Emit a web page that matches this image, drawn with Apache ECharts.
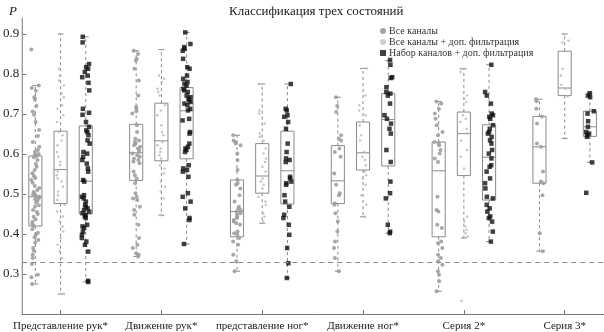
<!DOCTYPE html>
<html><head><meta charset="utf-8">
<script src="https://cdn.jsdelivr.net/npm/echarts@6/dist/echarts.min.js"></script>
<style>html,body{margin:0;padding:0;background:#fff}#c{width:604px;height:332px}</style>
</head><body><div id="c"></div>
<script>
const categories = ['Представление рук*','Движение рук*','представление ног*','Движение ног*','Серия 2*','Серия 3*'];
const seriesNames = ['Все каналы','Все каналы + доп. фильтрация','Набор каналов + доп. фильтрация'];
const yTicks = [0.3,0.4,0.5,0.6,0.7,0.8,0.9];
const chanceLevel = 0.333;

// box stats: [lowWhisker, q1, median, q3, highWhisker]
const allStats = [
 [0.275,0.42,0.493,0.595,0.771],
 [0.344,0.534,0.603,0.674,0.858],
 [0.307,0.393,0.456,0.535,0.647],
 [0.307,0.476,0.533,0.621,0.742],
 [0.257,0.393,0.558,0.63,0.731],
 [0.357,0.527,0.618,0.694,0.737]
];
const filtStats = [
 [0.25,0.476,0.561,0.657,0.9],
 [0.447,0.583,0.633,0.727,0.861],
 [0.427,0.502,0.545,0.626,0.775],
 [0.443,0.56,0.603,0.68,0.814],
 [0.39,0.546,0.651,0.705,0.813],
 [0.639,0.746,0.765,0.857,0.9]
];
const setStats = [
 [0.28,0.45,0.532,0.67,0.893],
 [0.375,0.588,0.708,0.766,0.904],
 [0.29,0.475,0.558,0.657,0.775],
 [0.402,0.57,0.686,0.751,0.834],
 [0.381,0.485,0.592,0.673,0.823],
 [0.579,0.644,0.668,0.707,0.752]
];

// individual values
const all1 = [0.861,0.771,0.765,0.758,0.742,0.737,0.72,0.706,0.698,0.68,0.66,0.645,0.63,0.618,0.61,0.605,0.6,0.598,0.595,0.592,0.585,0.575,0.568,0.56,0.552,0.545,0.54,0.535,0.528,0.52,0.515,0.51,0.505,0.5,0.498,0.495,0.493,0.49,0.487,0.483,0.478,0.472,0.468,0.46,0.455,0.45,0.443,0.437,0.43,0.425,0.42,0.412,0.403,0.398,0.392,0.385,0.378,0.365,0.358,0.348,0.34,0.325,0.298,0.292,0.275];
const all2 = [0.858,0.85,0.838,0.834,0.813,0.784,0.746,0.718,0.713,0.707,0.701,0.672,0.655,0.638,0.634,0.63,0.626,0.622,0.618,0.614,0.61,0.605,0.601,0.597,0.593,0.589,0.585,0.581,0.577,0.556,0.547,0.539,0.527,0.502,0.493,0.489,0.485,0.468,0.46,0.448,0.423,0.39,0.373,0.365,0.352,0.348,0.344];
const all3 = [0.647,0.634,0.63,0.626,0.622,0.601,0.585,0.56,0.535,0.527,0.523,0.514,0.497,0.481,0.468,0.464,0.46,0.456,0.452,0.448,0.444,0.44,0.435,0.431,0.427,0.423,0.406,0.402,0.398,0.39,0.381,0.373,0.348,0.332,0.307];
const all4 = [0.742,0.72,0.705,0.647,0.638,0.634,0.614,0.605,0.593,0.551,0.523,0.502,0.497,0.477,0.473,0.452,0.431,0.406,0.381,0.365,0.34,0.307];
const all5 = [0.731,0.726,0.713,0.701,0.688,0.672,0.655,0.647,0.63,0.626,0.622,0.61,0.601,0.589,0.58,0.493,0.46,0.456,0.423,0.415,0.381,0.377,0.365,0.348,0.34,0.332,0.323,0.307,0.298,0.282,0.257];
const all6 = [0.737,0.732,0.713,0.694,0.676,0.626,0.618,0.556,0.531,0.527,0.497,0.402,0.357];

const filt1 = [0.813,0.796,0.784,0.771,0.751,0.742,0.722,0.713,0.697,0.68,0.655,0.647,0.634,0.622,0.605,0.593,0.58,0.572,0.556,0.547,0.539,0.531,0.518,0.506,0.497,0.485,0.473,0.456,0.444,0.431,0.419,0.406,0.39,0.373,0.356,0.34,0.25];
const filt2 = [0.796,0.788,0.78,0.763,0.755,0.746,0.722,0.709,0.697,0.672,0.655,0.647,0.63,0.622,0.614,0.605,0.597,0.589,0.572,0.564,0.551,0.531,0.518,0.506,0.489,0.447];
const filt3 = [0.775,0.709,0.701,0.676,0.651,0.643,0.634,0.614,0.601,0.589,0.58,0.568,0.556,0.539,0.531,0.523,0.514,0.502,0.493,0.481,0.473,0.452,0.444,0.431];
const filt4 = [0.814,0.746,0.722,0.709,0.697,0.672,0.647,0.634,0.605,0.593,0.585,0.572,0.556,0.547,0.539,0.523,0.497,0.473,0.443];
const filt5 = [0.813,0.805,0.746,0.738,0.73,0.697,0.688,0.68,0.663,0.651,0.634,0.61,0.593,0.564,0.444,0.431,0.419,0.41,0.402,0.394,0.233];
const filt6 = [0.9,0.883,0.879,0.813,0.796,0.773,0.763,0.744,0.639];

const set1 = [0.893,0.879,0.825,0.817,0.813,0.805,0.796,0.792,0.778,0.759,0.713,0.703,0.698,0.68,0.668,0.659,0.655,0.647,0.634,0.626,0.605,0.601,0.593,0.585,0.576,0.564,0.556,0.535,0.531,0.497,0.493,0.489,0.481,0.473,0.468,0.464,0.46,0.456,0.452,0.448,0.444,0.44,0.423,0.419,0.415,0.406,0.398,0.39,0.381,0.373,0.356,0.283,0.28];
const set2 = [0.904,0.875,0.867,0.863,0.858,0.838,0.817,0.813,0.796,0.788,0.78,0.776,0.771,0.763,0.759,0.755,0.746,0.742,0.738,0.734,0.73,0.726,0.722,0.713,0.709,0.688,0.684,0.655,0.651,0.626,0.618,0.614,0.61,0.605,0.572,0.564,0.56,0.556,0.543,0.502,0.493,0.481,0.464,0.44,0.435,0.375];
const set3 = [0.775,0.713,0.709,0.697,0.693,0.68,0.663,0.626,0.605,0.589,0.585,0.58,0.543,0.539,0.531,0.527,0.523,0.497,0.481,0.468,0.448,0.44,0.423,0.398,0.365,0.327,0.29];
const set4 = [0.835,0.823,0.792,0.79,0.767,0.755,0.751,0.746,0.726,0.697,0.688,0.676,0.663,0.651,0.61,0.58,0.531,0.502,0.489,0.423,0.406,0.402];
const set5 = [0.823,0.755,0.746,0.726,0.701,0.697,0.693,0.688,0.672,0.663,0.655,0.651,0.643,0.634,0.626,0.61,0.601,0.589,0.572,0.568,0.556,0.539,0.527,0.514,0.493,0.489,0.473,0.464,0.456,0.444,0.44,0.431,0.406,0.381];
const set6 = [0.752,0.746,0.742,0.707,0.701,0.682,0.668,0.655,0.651,0.647,0.643,0.579,0.503];

const allPts = [all1,all2,all3,all4,all5,all6];
const filtPts = [filt1,filt2,filt3,filt4,filt5,filt6];
const setPts = [set1,set2,set3,set4,set5,set6];

// layout
const offsets = [-0.25, 0, 0.25];
const boxW = 0.13;
const jitterAmp = 0.04;
// deterministic scatter of horizontal position (layout only)
function jitter(i, k){
  const s = Math.sin(i * 12.9898 + k * 78.233) * 43758.5453;
  return ((s - Math.floor(s)) * 2 - 1) * jitterAmp;
}

function boxData(stats, off){ return stats.map((s, g) => [g + 1 + off].concat(s)); }
function ptData(pts, off, k){
  const out = [];
  pts.forEach((arr, g) => arr.forEach((v, i) => out.push([g + 1 + off + jitter(i, k + g), v])));
  return out;
}

const boxes = [].concat(boxData(allStats, offsets[0]), boxData(filtStats, offsets[1]), boxData(setStats, offsets[2]));
const serif = '"Liberation Serif","DejaVu Serif",serif';
const boxColor = '#8a8a8a';

function renderBox(params, api){
  const x = api.value(0);
  const lo = api.coord([x, api.value(1)]);
  const q1 = api.coord([x, api.value(2)]);
  const md = api.coord([x, api.value(3)]);
  const q3 = api.coord([x, api.value(4)]);
  const hi = api.coord([x, api.value(5)]);
  const hw = api.size([boxW, 0])[0] / 2;
  const cw = 3;
  const cx = lo[0];
  const ls = {stroke: boxColor, lineWidth: 1, fill: null};
  const ds = {stroke: boxColor, lineWidth: 1, lineDash: [3, 3], fill: null};
  return {type: 'group', children: [
    {type: 'line', shape: {x1: cx, y1: q3[1], x2: cx, y2: hi[1]}, style: ds},
    {type: 'line', shape: {x1: cx, y1: q1[1], x2: cx, y2: lo[1]}, style: ds},
    {type: 'line', shape: {x1: cx - cw, y1: hi[1], x2: cx + cw, y2: hi[1]}, style: ls},
    {type: 'line', shape: {x1: cx - cw, y1: lo[1], x2: cx + cw, y2: lo[1]}, style: ls},
    {type: 'rect', shape: {x: cx - hw, y: q3[1], width: hw * 2, height: q1[1] - q3[1]}, style: ls},
    {type: 'line', shape: {x1: cx - hw, y1: md[1], x2: cx + hw, y2: md[1]}, style: ls}
  ]};
}

const chart = echarts.init(document.getElementById('c'), null, {renderer: 'canvas'});
chart.setOption({
  animation: false,
  backgroundColor: '#fff',
  title: [
    {text: 'Классификация трех состояний', left: 224, top: 0, textStyle: {fontFamily: serif, fontSize: 13, fontWeight: 'normal', color: '#222'}},
    {text: 'P', left: 4, top: 0, textStyle: {fontFamily: serif, fontSize: 13, fontStyle: 'italic', fontWeight: 'normal', color: '#222'}}
  ],
  legend: {
    orient: 'vertical', left: 375, top: 21, itemGap: 1,
    itemWidth: 6, itemHeight: 6,
    textStyle: {fontFamily: serif, fontSize: 10, color: '#333', padding: [0,0,0,-2]},
    data: [
      {name: seriesNames[0], icon: 'circle', itemStyle: {color: '#9a9a9a'}},
      {name: seriesNames[1], icon: 'circle', itemStyle: {color: '#c0c0c0'}},
      {name: seriesNames[2], icon: 'rect', itemStyle: {color: '#111'}}
    ]
  },
  grid: {left: 22, right: 0, top: 18, bottom: 18},
  xAxis: {
    type: 'value', min: 0.62, max: 6.39,
    splitLine: {show: false},
    axisLine: {lineStyle: {color: '#777', width: 1}},
    axisTick: {inside: true, length: 4, customValues: [1,2,3,4,5,6], lineStyle: {color: '#777'}},
    axisLabel: {customValues: [1,2,3,4,5,6], margin: 7, fontFamily: serif, fontSize: 11, color: '#222',
      formatter: v => categories[Math.round(v) - 1] || ''}
  },
  yAxis: {
    type: 'value', min: 0.2, max: 0.94,
    splitLine: {show: false},
    axisLine: {show: true, lineStyle: {color: '#777', width: 1}},
    axisTick: {inside: true, length: 4, customValues: yTicks, lineStyle: {color: '#777'}},
    axisLabel: {customValues: yTicks, margin: 3, fontFamily: serif, fontSize: 13, color: '#222',
      formatter: v => v.toFixed(1)}
  },
  series: [
    {type: 'custom', renderItem: renderBox, data: boxes, encode: {x: 0, y: [1,2,3,4,5]}, silent: true, z: 1,
     markLine: {silent: true, symbol: 'none', label: {show: false},
       lineStyle: {color: '#888', type: [5, 4], width: 1},
       data: [{yAxis: chanceLevel}]}},
    {type: 'scatter', name: seriesNames[0], data: ptData(allPts, offsets[0], 0), symbol: 'circle', symbolSize: 4,
     itemStyle: {color: '#9f9f9f', opacity: 0.9}, z: 3},
    {type: 'scatter', name: seriesNames[1], data: ptData(filtPts, offsets[1], 3), symbol: 'circle', symbolSize: 2.5,
     itemStyle: {color: '#b5b5b5'}, z: 3},
    {type: 'scatter', name: seriesNames[2], data: ptData(setPts, offsets[2], 7), symbol: 'rect', symbolSize: 4.5,
     itemStyle: {color: '#111'}, z: 4}
  ]
});
</script></body></html>
